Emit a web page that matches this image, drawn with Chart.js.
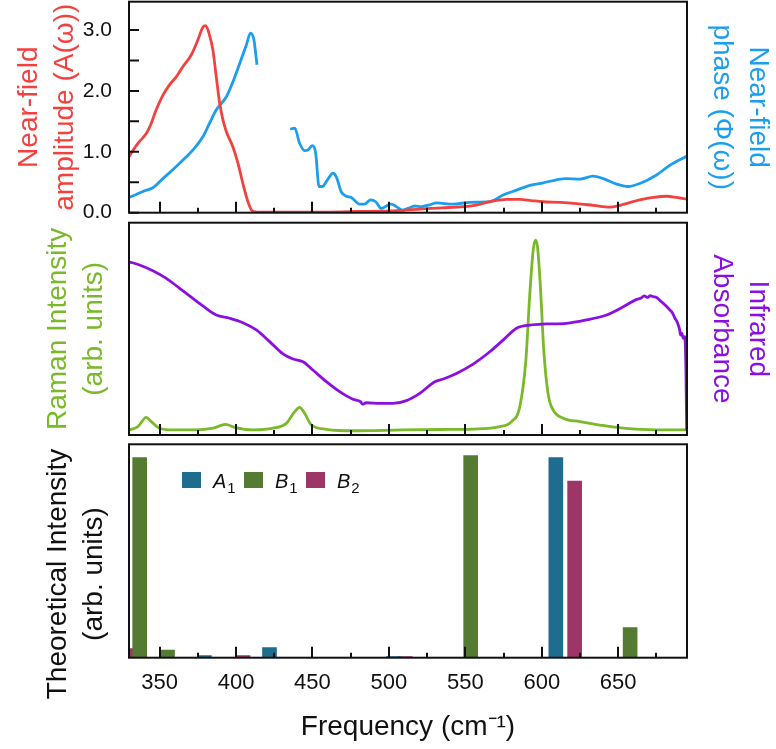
<!DOCTYPE html>
<html>
<head>
<meta charset="utf-8">
<script src="https://cdn.jsdelivr.net/npm/chart.js@4.4.1/dist/chart.umd.min.js"></script>
<style>
html,body{margin:0;padding:0;background:#fff;}
#wrap{position:relative;width:776px;height:749px;overflow:hidden;font-family:"Liberation Sans",Arial,sans-serif;}
canvas{position:absolute;left:0;}
#c1{top:0;}
#c2{top:221px;}
#c3{top:437px;}
.sw{position:absolute;top:472px;width:19px;height:16px;}
.lt{position:absolute;top:470.7px;font-size:20px;line-height:20px;color:#111;white-space:nowrap;}
.lt i{font-style:italic;}
.lt .sb{font-size:15px;position:relative;top:5px;margin-left:1px;}
</style>
</head>
<body>
<div id="wrap">
<canvas id="c1" width="776" height="221"></canvas>
<canvas id="c2" width="776" height="216"></canvas>
<canvas id="c3" width="776" height="312"></canvas>
<span class="sw" style="left:182px;background:#1f6c8f"></span><span class="lt" style="left:213px"><i>A</i><span class="sb">1</span></span>
<span class="sw" style="left:244px;background:#557a31"></span><span class="lt" style="left:275px"><i>B</i><span class="sb">1</span></span>
<span class="sw" style="left:306px;background:#9d3567"></span><span class="lt" style="left:337px"><i>B</i><span class="sb">2</span></span>
</div>
<script>
// ---------- data ----------
const X_MIN = 330, X_MAX = 695;
const xTickLabels = ['350','400','450','500','550','600','650'];
const xMajorTicks = [350,400,450,500,550,600,650];
const xMinorTicks = [375,425,475,525,575,625,675];
const ampTickLabels = ['0.0','1.0','2.0','3.0'];
const ampTicks = [0,0.5,1,1.5,2,2.5,3];

// near-field amplitude A(w)
const ampFreq = [330,333.6,336.9,341.3,344.6,347.8,352.2,356.5,360.9,365.3,370.7,375.1,378.4,380.1,382.3,384.9,387.1,389.3,391.5,393.7,398.0,401.3,404.5,407.8,410.6,414,425,440,460,480,500,520,535,548.6,558,566,577,585.6,593,600.9,612,622.8,633.7,644.6,651.1,658,664.2,672.9,681.7,688.2,695];
const ampVal  = [0.92,1.06,1.17,1.30,1.47,1.69,1.93,2.10,2.23,2.40,2.59,2.84,3.05,3.07,2.95,2.67,2.23,1.80,1.52,1.33,1.08,0.81,0.48,0.18,0.03,0.01,0.01,0.01,0.01,0.02,0.03,0.06,0.08,0.10,0.13,0.18,0.22,0.22,0.20,0.18,0.17,0.15,0.12,0.09,0.12,0.17,0.21,0.25,0.27,0.25,0.22];

// near-field phase (same display scale), gap between 414 and 435
const phaseFreq = [330,334.7,340.2,345.6,352.2,360.9,367.5,372.9,378.4,382.7,387.1,393.6,398.0,402.4,406.7,409.5,411.7,413.7,424,435.5,438.4,441.6,444.9,447.1,449.9,452.1,454.3,456.4,460.1,463.4,465.6,468.9,472.2,475.4,480.9,484.1,487.9,491.4,495.1,498.4,501.6,504.9,508.8,512.5,516.9,521.2,526.7,531.1,542.0,552.9,566.0,574.7,583.5,592.2,600.9,609.6,616.2,624.9,633.6,640.2,648.9,656.5,664.2,675.1,683.8,695];
const phaseVal  = [0.25,0.30,0.36,0.41,0.56,0.76,0.92,1.06,1.25,1.47,1.69,1.90,2.15,2.45,2.75,2.95,2.84,2.43,null,1.37,1.39,1.14,1.02,1.03,1.10,0.98,0.43,0.43,0.55,0.65,0.59,0.34,0.27,0.25,0.14,0.14,0.21,0.18,0.07,0.11,0.14,0.10,0.04,0.07,0.11,0.10,0.13,0.16,0.14,0.17,0.18,0.29,0.37,0.45,0.49,0.54,0.56,0.55,0.60,0.56,0.47,0.43,0.48,0.62,0.78,0.93];

// Raman intensity (arb. units)
const ramanFreq = [330,335.8,341.3,344.6,350,358.7,374,384.9,393.2,399.1,411.1,424.2,432.9,438.4,441.6,444.9,449.3,459.1,476.5,509.3,533.3,555.1,572.6,580.2,585.6,589.6,592.2,594.4,595.9,597.2,599.1,601.3,604.1,607.4,614.0,624.9,638.0,653.3,675.1,695];
const ramanVal  = [0.024,0.039,0.083,0.063,0.032,0.024,0.024,0.032,0.050,0.036,0.024,0.032,0.055,0.110,0.130,0.102,0.047,0.027,0.020,0.024,0.026,0.028,0.039,0.063,0.133,0.353,0.667,0.871,0.918,0.887,0.699,0.400,0.196,0.118,0.079,0.063,0.047,0.032,0.024,0.024];

// Infrared absorbance (arb. units)
const irFreq = [330,336.9,345.6,354.4,363.1,370.7,378.3,387.1,395.8,404.5,413.3,422.0,430.7,437.3,443.8,450.3,459.1,467.8,476.5,481.4,482.7,485.3,494.0,502.7,511.5,520.2,530.0,536,544.2,555.1,566.0,574.7,583.5,592.2,603.1,616.2,629.3,642.4,653.3,662.1,665,667,669,671,673,675.1,677,679.5,681,683.8,685.5,687.1,688.2,689.3,690.2,690.8,691.6,692.6,693.6,694.3,694.8];
const irVal  = [0.816,0.801,0.774,0.738,0.691,0.649,0.608,0.565,0.550,0.529,0.495,0.440,0.382,0.358,0.345,0.306,0.251,0.204,0.168,0.157,0.145,0.152,0.149,0.149,0.162,0.196,0.251,0.265,0.290,0.334,0.392,0.447,0.503,0.518,0.523,0.526,0.542,0.565,0.604,0.639,0.645,0.655,0.648,0.656,0.651,0.648,0.636,0.620,0.610,0.589,0.575,0.550,0.537,0.518,0.495,0.471,0.480,0.455,0.463,0.30,0.02];

// Theoretical intensities
const a1Freq = [379.3,421.9,503,609.2];
const a1Val  = [0.010,0.050,0.006,1.000];
const b1Freq = [337,355.2,553.5,657.8];
const b1Val  = [1.000,0.038,1.010,0.150];
const b2Freq = [328,404.6,510.7,621.5];
const b2Val  = [0.045,0.010,0.006,0.883];

// ---------- styling ----------
const RED = '#f2423f', BLUE = '#1c9eee', PURPLE = '#8b10e0', GREEN = '#79b92a';
const FONT = '"Liberation Sans", Arial, Helvetica, sans-serif';
Chart.defaults.font.family = FONT;
Chart.defaults.color = '#111';

const pts = (xs, ys) => xs.map((x, i) => ({x: x, y: ys[i]}));

const framePlugin = {
  id: 'frame',
  afterDatasetsDraw(chart, args, opts) {
    const ctx = chart.ctx, a = chart.chartArea, xs = chart.scales.x;
    ctx.save();
    ctx.strokeStyle = '#111';
    ctx.lineWidth = 2;
    ctx.beginPath();
    xMajorTicks.forEach(v => { const p = Math.round(xs.getPixelForValue(v)); ctx.moveTo(p, a.bottom); ctx.lineTo(p, a.bottom - 11); });
    xMinorTicks.forEach(v => { const p = Math.round(xs.getPixelForValue(v)); ctx.moveTo(p, a.bottom); ctx.lineTo(p, a.bottom - 5); });
    if (opts && opts.yTicks) {
      const ys = chart.scales.y;
      opts.yTicks.forEach(v => { const p = ys.getPixelForValue(v); ctx.moveTo(a.left, p); ctx.lineTo(a.left + 10, p); });
    }
    ctx.stroke();
    ctx.strokeRect(a.left, a.top, a.right - a.left, a.bottom - a.top);
    ctx.restore();
  }
};

const shiftTitlePlugin = {
  id: 'shiftTitle',
  beforeDraw(chart, args, opts) {
    const s = chart.scales.y;
    if (s && !s.__patched) {
      const orig = s.drawTitle.bind(s);
      s.drawTitle = function () { const c = this.ctx; c.save(); c.translate(0, opts.dy || 0); orig(); c.restore(); };
      s.__patched = true;
    }
  }
};

const hiddenX = {type: 'linear', min: X_MIN, max: X_MAX, offset: false, display: false};
const titleFont = {size: 28, lineHeight: 1.31};
const fitV = w => (s => { s.width = w; s.paddingTop = 0; s.paddingBottom = 0; });
const commonOpts = {
  responsive: false,
  animation: false,
  events: [],
  elements: {point: {radius: 0}, line: {borderWidth: 2.8, cubicInterpolationMode: 'monotone'}},
};

// ---------- top panel ----------
new Chart(document.getElementById('c1'), {
  type: 'line',
  data: {datasets: [
    {label: 'Near-field amplitude', data: pts(ampFreq, ampVal), borderColor: RED, yAxisID: 'y'},
    {label: 'Near-field phase', data: pts(phaseFreq, phaseVal), borderColor: BLUE, yAxisID: 'y2', spanGaps: false}
  ]},
  options: Object.assign({}, commonOpts, {
    layout: {padding: {top: 1.7, bottom: 8.3, left: 0, right: 0}},
    plugins: {legend: {display: false}, tooltip: {enabled: false}, frame: {yTicks: ampTicks}},
    scales: {
      x: hiddenX,
      y: {
        type: 'linear', position: 'left', min: 0, max: 3.465,
        grid: {display: false, drawTicks: false}, border: {display: false},
        afterBuildTicks: s => { s.ticks = [0, 1, 2, 3].map(v => ({value: v})); },
        ticks: {padding: 17, color: '#111', font: {size: 21},
          callback: v => { const t = Number(v).toFixed(1); return ampTickLabels.includes(t) ? t : ''; }},
        title: {display: true, text: ['Near-field', 'amplitude (A(ω))'], color: RED, font: titleFont, padding: {top: 10.7, bottom: 0}},
        afterFit: fitV(129)
      },
      y2: {
        type: 'linear', position: 'right', min: 0, max: 3.465,
        grid: {display: false, drawTicks: false}, border: {display: false},
        ticks: {display: false},
        title: {display: true, text: ['Near-field', 'phase (Φ(ω))'], color: BLUE, font: {size: 28, lineHeight: 1.3}, padding: {top: 0, bottom: 0}},
        afterFit: fitV(89)
      }
    }
  }),
  plugins: [framePlugin]
});

// ---------- middle panel ----------
new Chart(document.getElementById('c2'), {
  type: 'line',
  data: {datasets: [
    {label: 'Infrared Absorbance', data: pts(irFreq, irVal), borderColor: PURPLE, yAxisID: 'y2'},
    {label: 'Raman Intensity', data: pts(ramanFreq, ramanVal), borderColor: GREEN, yAxisID: 'y'}
  ]},
  options: Object.assign({}, commonOpts, {
    layout: {padding: {top: 1.7, bottom: 2, left: 0, right: 0}},
    plugins: {legend: {display: false}, tooltip: {enabled: false}, frame: {}},
    scales: {
      x: hiddenX,
      y: {
        type: 'linear', position: 'left', min: 0, max: 1,
        grid: {display: false, drawTicks: false}, border: {display: false},
        ticks: {display: false},
        title: {display: true, text: ['Raman Intensity', '(arb. units)'], color: GREEN, font: titleFont, padding: {top: 39.7, bottom: 0}},
        afterFit: fitV(129)
      },
      y2: {
        type: 'linear', position: 'right', min: 0, max: 1,
        grid: {display: false, drawTicks: false}, border: {display: false},
        ticks: {display: false},
        title: {display: true, text: ['Infrared', 'Absorbance'], color: PURPLE, font: {size: 28, lineHeight: 1.3}, padding: {top: 0, bottom: 0}},
        afterFit: fitV(89)
      }
    }
  }),
  plugins: [framePlugin]
});

// ---------- bottom panel ----------
new Chart(document.getElementById('c3'), {
  type: 'bar',
  data: {datasets: [
    {label: 'A1', data: pts(a1Freq, a1Val), backgroundColor: '#1f6c8f'},
    {label: 'B1', data: pts(b1Freq, b1Val), backgroundColor: '#557a31'},
    {label: 'B2', data: pts(b2Freq, b2Val), backgroundColor: '#9d3567'}
  ]},
  options: {
    responsive: false,
    animation: false,
    events: [],
    datasets: {bar: {barThickness: 14, grouped: false, borderWidth: 0}},
    layout: {padding: {top: 7.3, bottom: 0, left: 0, right: 89}},
    plugins: {legend: {display: false}, tooltip: {enabled: false}, frame: {}, shiftTitle: {dy: 23}},
    scales: {
      x: {
        type: 'linear', min: X_MIN, max: X_MAX, offset: false,
        grid: {display: false, drawTicks: false}, border: {display: false},
        afterBuildTicks: s => { s.ticks = xMajorTicks.map(v => ({value: v})); },
        ticks: {autoSkip: false, maxRotation: 0, padding: 11.7, color: '#111', font: {size: 22},
          callback: v => { const t = String(v); return xTickLabels.includes(t) ? t : ''; }},
        title: {display: true, text: 'Frequency (cm⁻¹)', color: '#111', font: {size: 28}, padding: {top: 0, bottom: 5.2}},
        afterFit: s => { s.height = 91.3; s.paddingLeft = 0; s.paddingRight = 0; }
      },
      y: {
        type: 'linear', position: 'left', min: 0, max: 1.067,
        grid: {display: false, drawTicks: false}, border: {display: false},
        ticks: {display: false},
        title: {display: true, text: ['Theoretical Intensity', '(arb. units)'], color: '#111', font: titleFont, padding: {top: 39.7, bottom: 0}},
        afterFit: fitV(129)
      }
    }
  },
  plugins: [framePlugin, shiftTitlePlugin]
});
</script>
</body>
</html>
